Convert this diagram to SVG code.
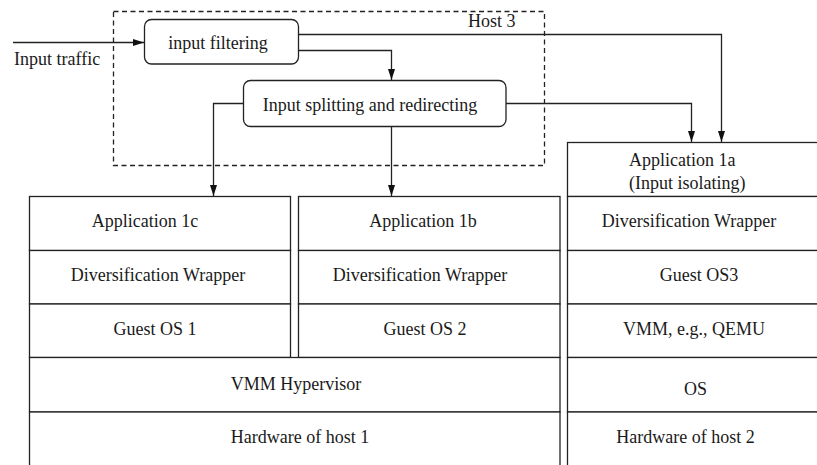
<svg xmlns="http://www.w3.org/2000/svg" width="817" height="465" viewBox="0 0 817 465">
<style>
  .t { font-family: "Liberation Serif", "Times New Roman", serif; font-size: 18px; fill: #1a1a1a; text-anchor: middle; }
  .ts { text-anchor: start; }
  .box { fill: #ffffff; stroke: #222222; stroke-width: 1.3; }
  .ln { fill: none; stroke: #222222; stroke-width: 1.3; }
  .dash { fill: none; stroke: #222222; stroke-width: 1.3; stroke-dasharray: 5 3.5; }
</style>
<defs>
  <marker id="arr" markerUnits="userSpaceOnUse" markerWidth="12" markerHeight="8" refX="11" refY="3.5" orient="auto">
    <path d="M0,0 L11,3.5 L0,7 Z" fill="#111111"/>
  </marker>
</defs>
<rect width="817" height="465" fill="#ffffff"/>

<g id="host3">
  <rect class="dash" x="113.5" y="11.5" width="431" height="154"/>
  <text class="t ts" x="468" y="27">Host 3</text>
</g>

<g id="input-traffic">
  <text class="t ts" x="14" y="65">Input traffic</text>
</g>

<g id="input-filtering">
  <rect class="box" x="144.5" y="19.5" width="154" height="44.5" rx="7" ry="7"/>
  <text class="t" x="218" y="49">input filtering</text>
</g>

<g id="input-splitting">
  <rect class="box" x="243.5" y="80.5" width="262.5" height="46" rx="7" ry="7"/>
  <text class="t" x="370" y="111">Input splitting and redirecting</text>
</g>

<g id="host1-stack">
  <g id="app1c">
    <rect class="box" x="29.5" y="196.5" width="261" height="54"/>
    <text class="t" x="145" y="227">Application 1c</text>
  </g>
  <g id="dw1">
    <rect class="box" x="29.5" y="250.5" width="261" height="53.5"/>
    <text class="t" x="158" y="281">Diversification Wrapper</text>
  </g>
  <g id="guestos1">
    <rect class="box" x="29.5" y="304" width="261" height="53.5"/>
    <text class="t" x="155" y="335">Guest OS 1</text>
  </g>
  <g id="app1b">
    <rect class="box" x="298.5" y="196.5" width="261.5" height="54"/>
    <text class="t" x="423" y="227">Application 1b</text>
  </g>
  <g id="dw2">
    <rect class="box" x="298.5" y="250.5" width="261.5" height="53.5"/>
    <text class="t" x="420" y="281">Diversification Wrapper</text>
  </g>
  <g id="guestos2">
    <rect class="box" x="298.5" y="304" width="261.5" height="53.5"/>
    <text class="t" x="425" y="335">Guest OS 2</text>
  </g>
  <g id="vmm-hypervisor">
    <rect class="box" x="29.5" y="357.5" width="530.5" height="54.5"/>
    <text class="t" x="296" y="390">VMM Hypervisor</text>
  </g>
  <g id="hw1">
    <rect class="box" x="29.5" y="412" width="530.5" height="60"/>
    <text class="t" x="300" y="443">Hardware of host 1</text>
  </g>
</g>

<g id="host2-stack">
  <g id="app1a">
    <rect class="box" x="567.5" y="142.5" width="270" height="54"/>
    <text class="t ts" x="629" y="166">Application 1a</text>
    <text class="t ts" x="629" y="189">(Input isolating)</text>
  </g>
  <g id="dw3">
    <rect class="box" x="567.5" y="196.5" width="270" height="54"/>
    <text class="t" x="689" y="227">Diversification Wrapper</text>
  </g>
  <g id="guestos3">
    <rect class="box" x="567.5" y="250.5" width="270" height="53.5"/>
    <text class="t" x="699" y="281">Guest OS3</text>
  </g>
  <g id="vmm-qemu">
    <rect class="box" x="567.5" y="304" width="270" height="53.5"/>
    <text class="t" x="694" y="335">VMM, e.g., QEMU</text>
  </g>
  <g id="os">
    <rect class="box" x="567.5" y="357.5" width="270" height="54.5"/>
    <text class="t" x="695.5" y="395">OS</text>
  </g>
  <g id="hw2">
    <rect class="box" x="567.5" y="412" width="270" height="60"/>
    <text class="t" x="685.5" y="443">Hardware of host 2</text>
  </g>
</g>

<g id="connectors">
  <path class="ln" d="M13,42.5 H144" marker-end="url(#arr)"/>
  <path class="ln" d="M298.5,34.5 H721.5 V142" marker-end="url(#arr)"/>
  <path class="ln" d="M298.5,50.5 H391.5 V80" marker-end="url(#arr)"/>
  <path class="ln" d="M243.5,103.5 H213.5 V196" marker-end="url(#arr)"/>
  <path class="ln" d="M391.5,126.5 V196" marker-end="url(#arr)"/>
  <path class="ln" d="M506,103.5 H691.5 V142" marker-end="url(#arr)"/>
</g>
</svg>
